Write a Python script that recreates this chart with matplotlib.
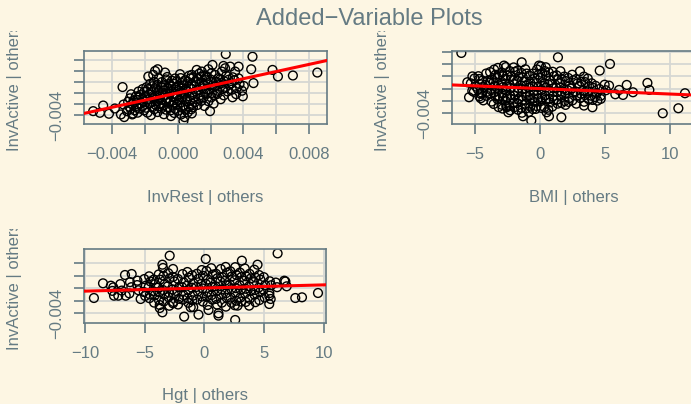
import matplotlib.pyplot as plt
import numpy as np
from matplotlib.transforms import Bbox, TransformedBbox

plt.rcParams['font.family'] = ['Liberation Sans', 'DejaVu Sans']

BG = '#fdf6e3'
FG = '#657b83'
GRID = '#d6d7d3'

title = 'Added\u2212Variable Plots'
ylab = 'InvActive | others'
xlabs = ['InvRest | others', 'BMI | others', 'Hgt | others']

# residual pairs; InvRest / InvActive in units of 1e-3
rest_pts = [
    (-5.15, -3.3), (-4.74, -3.6), (-4.54, -2.28), (-4.19, -3.78), (-3.83, -2.82), (-3.46, -3.9),
    (-3.26, -4.38), (-2.77, -3.9), (-3.3, -2.1), (-3.36, 1.08), (-0.77, 3.72), (2.93, 7.08),
    (4.56, 6.6), (5.78, 4.2), (6.11, 3.0), (7.02, 3.18), (8.51, 3.72), (4.62, 1.8), (3.97, -0.6),
    (3.34, -0.78), (4.48, 4.32), (3.71, 4.8), (2.79, 4.92), (-1.79, 3.0),
    (-3.09, -3.31), (-2.94, -2.52), (-3.02, -1.58), (-2.91, -0.97),
    (-2.73, -3.74), (-2.86, -2.9), (-2.77, -2.02), (-2.69, -1.37), (-2.84, -0.23),
    (-2.63, -3.15), (-2.52, -2.36), (-2.67, -1.71), (-2.55, -0.62),
    (-2.44, -3.58), (-2.32, -2.83), (-2.47, -1.26), (-2.36, -0.81), (-2.39, 0.27),
    (-2.16, -2.47), (-2.25, -1.92), (-2.11, -1.07), (-2.28, -0.36), (-2.14, 0.71),
    (-2.05, -3.16), (-1.93, -2.68), (-2.08, -1.51), (-1.96, -0.58), (-2.03, 0.22), (-1.91, 1.04),
    (-1.84, -3.57), (-1.72, -1.91), (-1.87, -1.16), (-1.74, -0.22), (-1.81, 0.71), (-1.68, 1.67),
    (-1.63, -4.03), (-1.53, -2.57), (-1.66, -1.82), (-1.51, -0.87), (-1.58, 0.18), (-1.55, 1.23),
    (-1.43, -2.96), (-1.34, -2.18), (-1.47, -0.94), (-1.31, -0.47), (-1.39, 0.86), (-1.44, 2.03),
    (-1.38, 4.0), (-1.49, 3.3),
    (-1.23, -3.47), (-1.13, -2.41), (-1.27, -1.53), (-1.11, -1.12), (-1.18, 0.33), (-1.08, -0.27),
    (-1.24, 1.52), (-1.15, 2.66), (-1.22, 4.32),
    (-1.02, -2.84), (-0.94, -1.88), (-1.07, -0.71), (-0.91, 0.08), (-0.98, 0.97), (-0.96, 1.99),
    (-0.84, -3.86), (-0.72, -3.03), (-0.87, -2.23), (-0.69, -1.37), (-0.78, -0.34), (-0.75, 0.54),
    (-0.82, 1.37), (-0.71, 2.47),
    (-0.62, -2.57), (-0.53, -1.82), (-0.66, -0.96), (-0.49, -0.11), (-0.57, 0.83), (-0.51, 1.71),
    (-0.64, 2.91),
    (-0.43, -3.16), (-0.32, -2.31), (-0.45, -1.49), (-0.29, -0.62), (-0.38, 0.36), (-0.41, 1.17),
    (-0.35, 2.24), (-0.41, -4.2),
    (-0.21, -3.64), (-0.13, -2.86), (-0.25, -1.74), (-0.09, -0.96), (-0.18, -0.17), (-0.11, 0.92),
    (-0.22, 1.67), (-0.16, 2.64),
    (0.03, -3.22), (-0.04, -2.07), (0.08, -1.24), (-0.02, -0.41), (0.11, 0.44), (0.04, 1.33),
    (-0.05, 2.16), (0.14, 3.42),
    (0.21, -3.91), (0.28, -2.69), (0.16, -1.73), (0.29, -0.86), (0.19, 0.09), (0.27, 0.79),
    (0.23, 1.83), (0.18, 2.71),
    (0.42, -4.39), (0.48, -3.06), (0.36, -2.28), (0.51, -1.48), (0.39, -0.27), (0.47, 0.56),
    (0.37, 1.41), (0.45, 2.33), (0.35, -5.1),
    (0.61, -3.54), (0.68, -2.57), (0.56, -1.07), (0.71, -0.61), (0.59, 0.32), (0.66, 1.16),
    (0.63, 2.02), (0.69, 3.12),
    (0.83, -2.96), (0.87, -1.94), (0.76, -1.33), (0.91, -0.19), (0.79, 0.84), (0.86, 1.58),
    (0.77, 2.67), (0.86, 3.3), (0.86, -3.72),
    (0.93, -2.6), (1.04, -1.71), (0.97, -0.82), (1.12, 0.31), (1.01, 1.24), (1.09, 2.12),
    (0.95, 2.83), (1.16, 4.2),
    (1.21, -2.17), (1.28, -1.02), (1.26, 0.6), (1.33, 1.71), (1.24, 2.61), (1.31, 3.52),
    (1.44, -1.43), (1.39, -0.36), (1.53, 0.84), (1.47, 1.92), (1.41, 2.97), (1.47, 3.9),
    (1.63, -2.36), (1.58, -0.78), (1.69, 0.23), (1.62, 1.33), (1.71, 2.34), (1.66, 3.21),
    (1.87, -1.5), (1.81, -0.12), (1.92, 0.67), (1.84, 1.76), (1.77, 3.0), (1.87, 4.32),
    (1.97, -3.3), (2.08, 0.0), (2.04, -0.81), (2.13, 1.38), (2.01, 2.46), (2.12, 5.1), (2.06, 3.62),
    (2.28, 1.2), (2.23, -0.44), (2.34, 2.06), (2.28, 3.3), (2.19, -1.93),
    (2.48, 2.7), (2.44, 0.41), (2.53, 1.63), (2.41, -0.17),
    (2.69, 1.8), (2.69, 3.9), (2.62, -1.13), (2.74, 0.72), (2.58, 2.53),
    (2.89, 0.9), (2.89, 4.5), (2.83, 2.14), (2.96, 3.13), (2.81, -0.43),
    (3.09, 2.4), (3.2, 4.8), (3.13, 1.47), (3.04, 0.28),
    (3.3, 0.6), (3.36, 2.86), (3.27, 1.76),
    (3.5, 3.9), (3.6, 0.9), (3.47, 2.31), (3.56, -0.21),
    (3.77, 1.62), (3.71, 2.67), (3.92, 0.41), (4.03, 1.27),
]

# BMI residual vs InvActive residual (1e-3)
bmi_pts = [
    (-6.05, 5.84), (1.38, 5.13), (5.38, 4.04), (4.59, 2.95), (9.44, -4.04), (10.64, -3.22),
    (11.15, -0.76), (8.26, 0.93), (8.41, -0.22), (7.15, -0.6), (6.67, 0.6), (6.38, -1.04),
    (5.79, -0.93), (6.08, -0.22), (5.31, 0.49), (1.64, -4.7), (-0.67, -5.24), (-1.31, -4.53),
    (-2.44, -3.88), (-2.56, -3.06), (-5.46, -1.42), (-4.56, -1.58), (-4.56, -0.87), (-5.59, 1.04),
    (-5.2, 2.0), (-4.69, 1.58), (-1.41, 4.31), (-0.08, 3.77), (0.44, 3.5), (-2.77, 3.77),
    (0.69, -4.53), (0.51, -3.88), (-0.33, -3.33), (3.38, -2.78), (4.03, -3.06), (4.41, -1.97),
    (4.67, -1.69),
    (-5.32, 0.86), (-5.21, -0.37),
    (-5.04, 1.67), (-4.92, 0.32), (-5.09, -0.54),
    (-4.74, 2.03), (-4.63, 0.78), (-4.78, -0.13), (-4.66, -1.27),
    (-4.43, 1.31), (-4.32, 0.24), (-4.47, -0.71), (-4.36, -1.93),
    (-4.14, 2.47), (-4.02, 1.28), (-4.17, 0.63), (-4.06, -0.52), (-4.11, -1.18),
    (-3.84, 2.71), (-3.72, 1.52), (-3.88, 0.94), (-3.76, -0.27), (-3.81, -0.83), (-3.73, -2.13),
    (-3.53, 3.12), (-3.42, 2.27), (-3.57, 1.03), (-3.46, 0.42), (-3.51, -0.61), (-3.43, -1.27),
    (-3.56, -2.52),
    (-3.24, 3.39), (-3.13, 2.32), (-3.27, 1.74), (-3.17, 0.56), (-3.21, -0.07), (-3.14, -1.23),
    (-3.26, -1.76), (-3.19, -3.03),
    (-2.93, 2.63), (-2.83, 2.04), (-2.97, 0.87), (-2.86, 0.23), (-2.91, -0.84), (-2.84, -1.47),
    (-2.96, -2.63), (-2.88, -3.27),
    (-2.63, 3.52), (-2.53, 2.17), (-2.67, 1.56), (-2.56, 0.37), (-2.61, -0.28), (-2.54, -1.37),
    (-2.66, -1.97), (-2.59, -2.87),
    (-2.33, 2.87), (-2.23, 1.96), (-2.37, 0.74), (-2.26, 0.13), (-2.31, -1.06), (-2.24, -1.67),
    (-2.36, -2.83), (-2.29, -3.56),
    (-2.03, 3.47), (-1.93, 2.74), (-2.07, 1.36), (-1.96, 0.73), (-2.01, -0.42), (-1.94, -1.16),
    (-2.06, -2.43), (-1.99, -3.07),
    (-1.73, 2.96), (-1.63, 1.93), (-1.77, 1.27), (-1.66, 0.04), (-1.71, -0.56), (-1.64, -1.74),
    (-1.76, -2.36), (-1.69, -3.47),
    (-1.43, 2.56), (-1.33, 1.86), (-1.47, 0.54), (-1.36, -0.07), (-1.41, -1.26), (-1.34, -1.87),
    (-1.46, -3.14), (-1.39, -3.96),
    (-1.13, 3.17), (-1.03, 2.46), (-1.17, 1.14), (-1.06, 0.47), (-1.11, -0.74), (-1.04, -1.36),
    (-1.16, -2.47), (-1.09, -3.26),
    (-0.83, 2.14), (-0.73, 0.87), (-0.87, 0.17), (-0.76, -1.13), (-0.81, -1.77), (-0.74, -2.96),
    (-0.86, -3.83),
    (-0.53, 2.47), (-0.43, 1.63), (-0.57, 0.36), (-0.46, -0.34), (-0.51, -1.57), (-0.44, -2.16),
    (-0.56, -3.34),
    (-0.23, 3.14), (-0.13, 2.26), (-0.27, 0.93), (-0.16, 0.27), (-0.21, -1.04), (-0.14, -1.66),
    (-0.26, -2.86),
    (0.07, 3.66), (0.17, 2.56), (0.03, 1.74), (0.14, 0.47), (0.09, -0.27), (0.16, -1.46),
    (0.04, -2.06), (0.11, -3.17),
    (0.37, 2.87), (0.47, 2.14), (0.33, 0.86), (0.44, 0.16), (0.39, -1.13), (0.46, -1.77), (0.34, -3.04),
    (0.67, 2.64), (0.77, 1.36), (0.63, 0.67), (0.74, -0.36), (0.69, -1.64), (0.76, -2.27), (0.64, -3.47),
    (0.97, 2.76), (1.07, 2.03), (0.93, 0.77), (1.04, 0.06), (0.99, -1.24), (1.06, -1.87), (0.94, -2.96),
    (1.27, 2.17), (1.37, 1.46), (1.23, 0.16), (1.34, -0.57), (1.29, -1.84), (1.36, -2.47),
    (1.57, 2.84), (1.67, 1.56), (1.53, 0.87), (1.64, -0.44), (1.59, -1.16), (1.66, -2.36),
    (1.87, 1.97), (1.97, 1.24), (1.83, -0.04), (1.94, -0.76), (1.89, -2.04), (1.96, -2.67),
    (2.17, 1.74), (2.27, 0.47), (2.13, -0.27), (2.24, -1.56), (2.19, -2.17),
    (2.47, 2.27), (2.57, 1.36), (2.43, 0.04), (2.54, -0.67), (2.49, -1.94),
    (2.77, 1.56), (2.87, 0.84), (2.73, -0.46), (2.84, -1.16), (2.79, -2.47),
    (3.07, 2.84), (3.17, 1.14), (3.03, 0.44), (3.14, -0.84), (3.09, -1.56),
    (3.37, 1.96), (3.47, 1.06), (3.33, -0.36), (3.44, -1.07), (3.39, -2.16),
    (3.67, 1.64), (3.77, 0.36), (3.63, -0.47), (3.74, -1.74),
    (3.97, 0.87), (4.07, 0.14), (3.93, -1.16), (4.04, -1.86),
    (4.27, 0.46), (4.37, -0.74), (4.23, -1.37),
    (4.57, -0.07), (4.67, -1.16),
    (4.97, 0.64), (5.07, -0.27),
]

# Hgt residual vs InvActive residual (1e-3)
hgt_pts = [
    (-9.25, -1.6), (-8.49, 0.75), (-7.63, 0.1), (-6.65, 2.08), (-6.09, 2.24), (-5.61, 1.17),
    (-5.34, -1.76), (-2.91, 5.17), (-3.52, 3.73), (-3.47, 3.2), (-2.63, 3.04), (0.11, 4.64),
    (3.13, 4.37), (6.12, 5.54), (4.44, 3.73), (7.6, -1.6), (8.16, -1.49), (9.5, -0.8), (6.68, 1.17),
    (2.57, -5.12), (-1.7, -4.58), (-0.5, -4.26), (1.17, -4.05), (1.17, -4.42), (0.34, -3.52),
    (-3.52, -3.89), (-3.74, -3.2), (-1.15, -3.09), (-2.63, -2.45), (1.79, -2.98), (2.77, -2.82),
    (3.74, -2.82), (5.42, -2.56), (5.42, -1.23), (-7.57, -1.23), (-7.21, -1.23), (-6.59, -1.23),
    (-7.83, 0.37), (-7.71, -0.46),
    (-7.04, 0.62), (-6.92, -0.41),
    (-6.23, 0.94), (-6.12, 0.13), (-6.28, -0.87),
    (-5.63, 0.47), (-5.52, -0.36),
    (-5.04, 1.43), (-4.92, 0.36), (-5.08, -0.64), (-4.96, -1.27),
    (-4.63, 1.87), (-4.52, 1.04), (-4.67, 0.14), (-4.56, -1.03), (-4.61, -1.63),
    (-4.23, 1.36), (-4.12, 0.63), (-4.27, -0.53), (-4.16, -1.17), (-4.21, -2.34),
    (-3.83, 2.17), (-3.72, 1.34), (-3.87, 0.07), (-3.76, -0.67), (-3.81, -1.93), (-3.74, -2.73),
    (-3.43, 1.94), (-3.32, 0.66), (-3.47, -0.33), (-3.36, -1.07), (-3.41, -2.17),
    (-3.03, 2.37), (-2.92, 1.53), (-3.07, 0.27), (-2.96, -0.74), (-3.01, -1.47), (-2.94, -2.84),
    (-2.63, 1.77), (-2.52, 1.06), (-2.67, -0.23), (-2.56, -0.97), (-2.61, -2.23),
    (-2.23, 1.46), (-2.12, 0.17), (-2.27, -0.57), (-2.16, -1.74), (-2.21, -2.64),
    (-1.83, 2.23), (-1.72, 0.87), (-1.87, 0.13), (-1.76, -1.14), (-1.81, -1.86),
    (-1.43, 2.56), (-1.32, 1.67), (-1.47, 0.37), (-1.36, -0.36), (-1.41, -1.63), (-1.34, -2.37),
    (-1.03, 2.04), (-0.92, 0.76), (-1.07, 0.06), (-0.96, -1.23), (-1.01, -1.96), (-0.94, -3.07),
    (-0.63, 2.27), (-0.52, 1.46), (-0.67, 0.17), (-0.56, -0.56), (-0.61, -1.84),
    (-0.23, 2.87), (-0.12, 1.94), (-0.27, 0.66), (-0.16, -0.07), (-0.21, -1.36), (-0.14, -2.17),
    (0.17, 2.73), (0.28, 1.36), (0.13, 0.63), (0.24, -0.64), (0.19, -1.37), (0.26, -2.73),
    (0.57, 3.17), (0.68, 2.14), (0.53, 0.87), (0.64, 0.14), (0.59, -1.14), (0.66, -1.87),
    (0.97, 2.27), (1.08, 1.56), (0.93, 0.27), (1.04, -0.47), (0.99, -1.74), (1.06, -2.66),
    (1.37, 3.04), (1.48, 1.76), (1.33, 1.03), (1.44, -0.23), (1.39, -1.06), (1.46, -2.34),
    (1.77, 3.37), (1.88, 2.44), (1.73, 1.17), (1.84, 0.43), (1.79, -0.84), (1.86, -1.56),
    (2.17, 2.67), (2.28, 1.84), (2.13, 0.56), (2.24, -0.17), (2.19, -1.53), (2.26, -2.36),
    (2.57, 3.33), (2.68, 2.07), (2.53, 1.24), (2.64, -0.03), (2.59, -0.77), (2.66, -2.04),
    (2.54, -2.77),
    (2.97, 2.47), (3.08, 1.74), (2.93, 0.47), (3.04, -0.27), (2.99, -1.56), (3.06, -2.17),
    (3.37, 3.13), (3.48, 1.87), (3.33, 1.14), (3.44, -0.13), (3.39, -0.86), (3.46, -2.23),
    (3.77, 2.27), (3.88, 1.53), (3.73, 0.27), (3.84, -0.47), (3.79, -1.73),
    (4.17, 2.93), (4.28, 1.67), (4.13, 0.94), (4.24, -0.33), (4.19, -1.07), (4.26, -2.27),
    (4.57, 2.07), (4.68, 1.34), (4.53, 0.06), (4.64, -0.67), (4.59, -1.94),
    (4.97, 1.73), (5.08, 0.47), (4.93, -0.27), (5.04, -1.53),
    (5.47, 1.07), (5.58, 0.44), (5.43, -0.83), (5.54, -1.76),
    (5.97, 0.87), (6.08, 0.13),
    (6.77, 1.04), (6.88, 0.27),
]

# slopes of the fitted lines (through the origin)
rest_slope = 0.65
bmi_slope = -0.089e-3
hgt_slope = 0.05e-3

W, H = 691, 404
fig = plt.figure(figsize=(W / 100, H / 100), dpi=100, facecolor=BG)


def px_box(left, top, right, bottom):
    return [left / W, 1 - bottom / H, (right - left) / W, (bottom - top) / H]


def minus(s):
    return s.replace('-', '\u2212')


def style(ax, xlim, ylim, xticks, xticklabels, yticks, yticklabels):
    ax.set_facecolor(BG)
    ax.set_xlim(xlim)
    ax.set_ylim(ylim)
    ax.set_xticks(xticks)
    ax.set_xticklabels([minus(s) for s in xticklabels])
    ax.set_yticks(yticks)
    ax.set_yticklabels([minus(s) for s in yticklabels])
    ax.grid(True, color=GRID, lw=1.3)
    ax.set_axisbelow(True)
    for sp in ax.spines.values():
        sp.set_color(FG)
        sp.set_linewidth(1.2)
    ax.tick_params(colors=FG, length=7.2, width=1.2, labelsize=12, direction='out')
    ax.tick_params(axis='x', pad=9.5)
    ax.tick_params(axis='y', pad=7, labelrotation=90)
    for lab in ax.get_yticklabels():
        lab.set_va('center')


def clipped_ylabel(x_px, y_px, clip_top_px):
    t = fig.text(x_px / W, 1 - y_px / H, ylab, rotation=90, ha='center', va='center',
                 fontsize=12, color=FG)
    box = TransformedBbox(Bbox([[0, 0], [1, 1 - clip_top_px / H]]), fig.transFigure)
    t.set_clip_box(box)
    t.set_clip_on(True)


def panel(pos, pts, scale_x, slope, xlim, ylim, xticks, xtl, yticks, ytl):
    ax = fig.add_axes(pos)
    xy = np.array(pts)
    ax.scatter(xy[:, 0] * scale_x, xy[:, 1] * 1e-3, s=40, facecolors='none',
               edgecolors='black', linewidths=1.0, zorder=2)
    ax.axline((0, 0), slope=slope, color='red', lw=2.2, zorder=3)
    style(ax, xlim, ylim, xticks, xtl, yticks, ytl)
    return ax


yt6 = [-0.004, -0.002, 0.0, 0.002, 0.004, 0.006]
ytl6 = ['-0.004', '', '', '', '', '']

panel(px_box(84, 51, 327, 124), rest_pts, 1e-3, rest_slope,
      (-0.00571, 0.0091), (-0.00564, 0.00764),
      [-0.004, -0.002, 0.0, 0.002, 0.004, 0.006, 0.008],
      ['-0.004', '', '0.000', '', '0.004', '', '0.008'], yt6, ytl6)

panel(px_box(452, 51, 695, 124), bmi_pts, 1.0, bmi_slope,
      (-6.77, 11.92), (-0.0058, 0.00616),
      [-5, 0, 5, 10], ['-5', '0', '5', '10'], yt6, ytl6)

panel(px_box(84, 249, 326, 323), hgt_pts, 1.0, hgt_slope,
      (-10.08, 10.17), (-0.0056, 0.00624),
      [-10, -5, 0, 5, 10], ['-10', '-5', '0', '5', '10'],
      [-0.004, -0.002, 0.0, 0.002, 0.004], ['-0.004', '', '', '', ''])

clipped_ylabel(15, 87.5, 31)
clipped_ylabel(383, 87.5, 31)
clipped_ylabel(15, 286, 229)

fig.text(205.5 / W, 1 - 202 / H, xlabs[0], ha='center', va='baseline', fontsize=12, color=FG)
fig.text(573.5 / W, 1 - 202 / H, xlabs[1], ha='center', va='baseline', fontsize=12, color=FG)
fig.text(205 / W, 1 - 400 / H, xlabs[2], ha='center', va='baseline', fontsize=12, color=FG)

fig.text(369.5 / W, 1 - 25 / H, title, ha='center', va='baseline', fontsize=17, color=FG)

fig.savefig('out.png', dpi=100, facecolor=BG)
